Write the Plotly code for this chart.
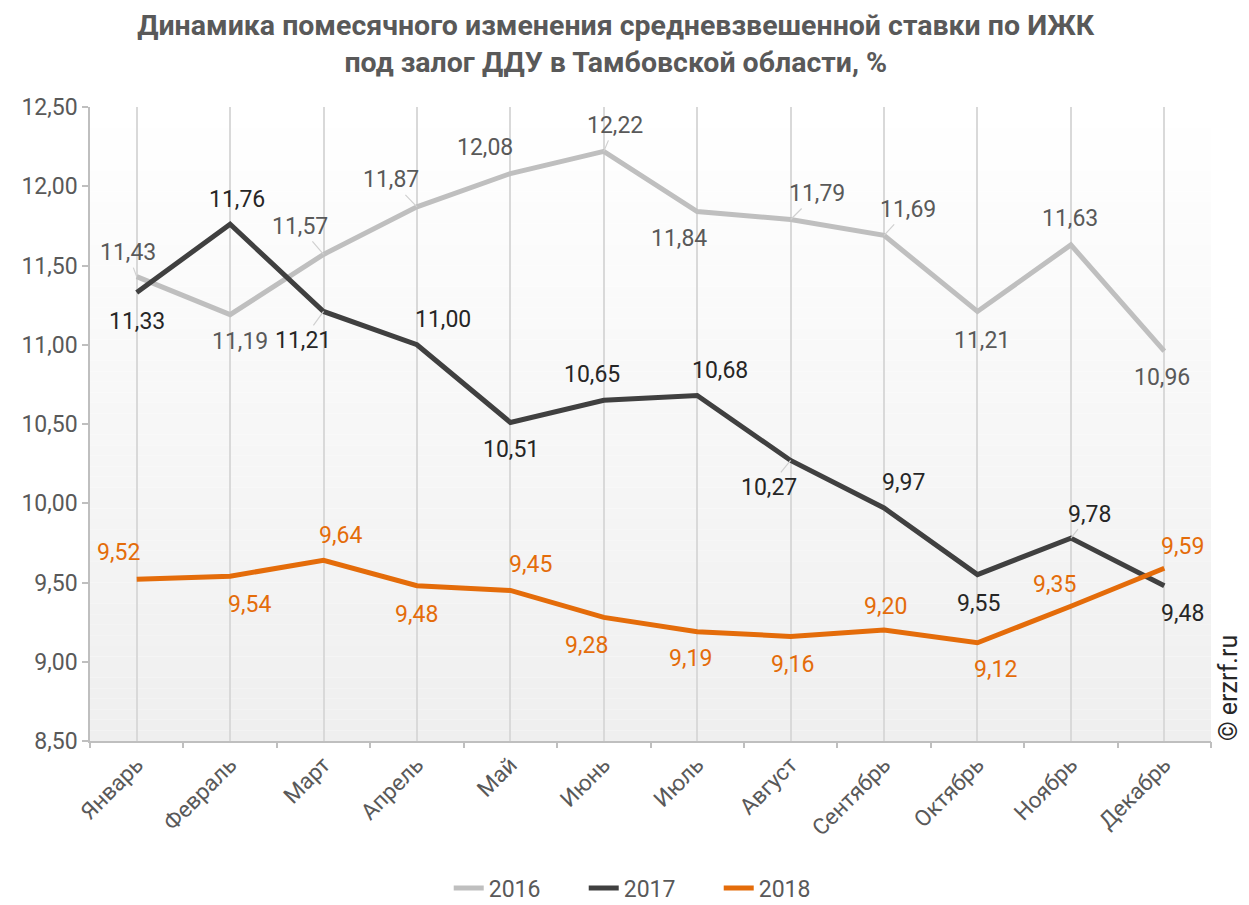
import numpy as np
import plotly.graph_objects as go

months = ["Январь", "Февраль", "Март", "Апрель", "Май", "Июнь",
          "Июль", "Август", "Сентябрь", "Октябрь", "Ноябрь", "Декабрь"]
series_names = ["2016", "2017", "2018"]
vals_2016 = [11.43, 11.19, 11.57, 11.87, 12.08, 12.22, 11.84, 11.79, 11.69, 11.21, 11.63, 10.96]
vals_2017 = [11.33, 11.76, 11.21, 11.00, 10.51, 10.65, 10.68, 10.27, 9.97, 9.55, 9.78, 9.48]
vals_2018 = [9.52, 9.54, 9.64, 9.48, 9.45, 9.28, 9.19, 9.16, 9.20, 9.12, 9.35, 9.59]
y_ticks = [8.5, 9.0, 9.5, 10.0, 10.5, 11.0, 11.5, 12.0, 12.5]

title_text = "Динамика помесячного изменения средневзвешенной ставки по ИЖК<br>под залог ДДУ в Тамбовской области, %"

# styles
line_colors = ["#bfbfbf", "#404040", "#e46c0a"]
label_colors = ["#595959", "#262626", "#e46c0a"]
# label offsets (px, dx right, dy down) and leader flags
offsets = [
    [(-9, -24), (10, 27), (-24, -28), (-26, -27), (-25, -26), (11, -26),
     (-18, 27), (26, -26), (24, -26), (5, 29), (-1, -26), (-2, 26)],
    [(0, 29), (7, -25), (-21, 29), (26, -25), (1, 27), (-12, -26),
     (23, -25), (-22, 27), (19, -26), (1, 29), (19, -24), (18, 28)],
    [(-18, -27), (19, 28), (17, -25), (0, 29), (20, -26), (-17, 28),
     (-7, 27), (2, 28), (1, -24), (18, 27), (-16, -22), (18, -22)],
]
leaders = [
    [1, 0, 1, 1, 0, 1, 0, 1, 1, 0, 0, 0],
    [0, 0, 1, 0, 0, 0, 0, 1, 0, 0, 1, 0],
    [0] * 12,
]

all_vals = [vals_2016, vals_2017, vals_2018]

fig = go.Figure()

# gradient background of plot area
nb = 60
for k in range(nb):
    t = (k + 0.5) / nb
    c = int(round(255 - 16 * t))
    fig.add_shape(type="rect", xref="x domain", yref="y domain",
                  x0=0, x1=1, y0=1 - (k + 1) / nb, y1=1 - k / nb,
                  fillcolor=f"rgb({c},{c},{c})", line=dict(width=0), layer="below")

for name, vals, col in zip(series_names, all_vals, line_colors):
    fig.add_trace(go.Scatter(x=months, y=vals, mode="lines", name=name,
                             line=dict(color=col, width=5), hoverinfo="skip"))

# invisible trace for boundary tick axis
bounds = list(np.arange(len(months) + 1) - 0.5)
fig.add_trace(go.Scatter(x=bounds, y=[y_ticks[0]] * len(bounds), xaxis="x2", mode="markers",
                         marker=dict(opacity=0), showlegend=False, hoverinfo="skip"))

for si, vals in enumerate(all_vals):
    for i, v in enumerate(vals):
        dx, dy = offsets[si][i]
        txt = f"{v:.2f}".replace(".", ",")
        if leaders[si][i]:
            fig.add_annotation(x=months[i], y=v, text=txt, showarrow=True,
                               ax=dx, ay=dy, arrowhead=0, arrowwidth=1.2,
                               arrowcolor="#d0d0d0", standoff=0, startstandoff=0,
                               font=dict(family="Roboto", size=23, color=label_colors[si]))
        else:
            fig.add_annotation(x=months[i], y=v, text=txt, showarrow=False,
                               xshift=dx, yshift=-dy,
                               font=dict(family="Roboto", size=23, color=label_colors[si]))

fig.add_annotation(text="© erzrf.ru", xref="paper", yref="paper", x=1.0, y=(741 - 688) / 634,
                   xanchor="center", yanchor="middle",
                   xshift=17, textangle=-90, showarrow=False,
                   font=dict(family="Roboto", size=25, color="#262626"))

fig.update_layout(
    width=1249, height=905,
    margin=dict(l=90, r=38, t=107, b=164),
    paper_bgcolor="white", plot_bgcolor="white",
    separators=", ",
    title=dict(text=title_text, x=0.493, xanchor="center", y=1 - 35 / 905, yanchor="top",
               yref="container",
               font=dict(family="Roboto", size=28.5, color="#595959", weight="bold")),
    xaxis=dict(type="category", categoryorder="array", categoryarray=months, automargin=False,
               range=[-0.5, len(months) - 0.5], showgrid=True, gridcolor="#d9d9d9", gridwidth=1.5,
               ticks="", showline=True, linecolor="#bfbfbf", linewidth=1.5,
               tickangle=-45, tickfont=dict(family="Roboto", size=22.5, color="#595959")),
    xaxis2=dict(type="linear", overlaying="x", anchor="y", side="bottom", automargin=False,
                range=[-0.5, len(months) - 0.5], tickvals=bounds, ticks="outside",
                ticklen=6, tickwidth=1.5, tickcolor="#bfbfbf", showticklabels=False,
                showgrid=False, showline=False, zeroline=False),
    yaxis=dict(range=[y_ticks[0], y_ticks[-1]], tickvals=y_ticks, tickformat=".2f", automargin=False,
               showgrid=False, zeroline=False, showline=True, linecolor="#bfbfbf", linewidth=1.5,
               ticks="outside", ticklen=6, tickwidth=1.5, tickcolor="#bfbfbf",
               tickfont=dict(family="Roboto", size=23, color="#595959")),
    legend=dict(orientation="h", x=0.5214, xanchor="center", xref="container",
                y=(905 - 888) / 905, yanchor="middle", yref="container",
                entrywidth=90, entrywidthmode="pixels",
                font=dict(family="Roboto", size=23, color="#595959"),
                bgcolor="rgba(0,0,0,0)"),
    showlegend=True,
)

fig.write_html("out.html", config={"displayModeBar": False},
               post_script="document.body.style.margin='0px';document.body.style.overflow='hidden';")
